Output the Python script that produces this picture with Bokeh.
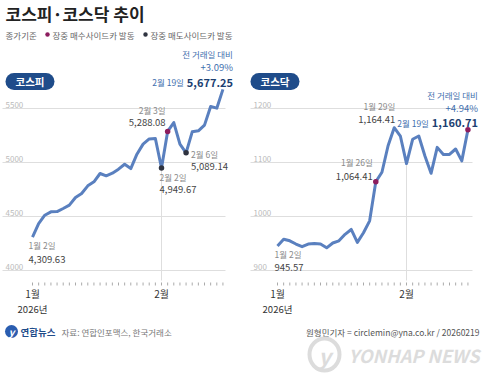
from bokeh.plotting import figure
from bokeh.models import Range1d
from bokeh.embed import file_html
from bokeh.resources import INLINE
from bokeh.core.properties import value

FONT = "Noto Sans CJK KR"

# ---------------- data ----------------
trade_days = ["1/2", "1/5", "1/6", "1/7", "1/8", "1/9", "1/12", "1/13", "1/14", "1/15", "1/16",
              "1/19", "1/20", "1/21", "1/22", "1/23", "1/26", "1/27", "1/28", "1/29", "1/30",
              "2/2", "2/3", "2/4", "2/5", "2/6", "2/9", "2/10", "2/11", "2/12", "2/13", "2/19"]
kospi = [4309.63, 4435, 4512, 4543, 4546, 4574, 4605, 4676, 4713, 4784, 4821,
         4898, 4877, 4901, 4938, 4984, 4944, 5077, 5170, 5218, 5222,
         4949.67, 5288.08, 5370, 5170, 5089.14, 5284, 5293, 5346, 5519, 5503, 5677.25]
kosdaq = [945.57, 958, 955, 949, 944, 949, 950, 949, 942, 951, 955,
          967, 976, 952, 970, 992, 1064.41, 1082, 1131, 1164.41, 1149,
          1098, 1143, 1149, 1112, 1080, 1128, 1115, 1115, 1125, 1103, 1160.71]
kospi_ticks = [4000, 4500, 5000, 5500]
kosdaq_ticks = [900, 1000, 1100, 1200]
month_labels = ["1월", "2월"]
month_idx = [0, 21]
kospi_buy = [22]
kospi_sell = [21, 25]
kosdaq_buy = [16, 31]

title = "코스피·코스닥 추이"
source = "자료: 연합인포맥스, 한국거래소"
credit = "원형민기자 = circlemin@yna.co.kr / 20260219"

# ---------------- colours ----------------
LINE = "#5A80BF"
BUY = "#8C1D5E"
SELL = "#2F3340"
NAVY = "#1F4C8A"
BLUE_T = "#3F6FAE"
GRID = "#DEDEDE"
GREY = "#8A8A8A"
DARK = "#444444"

W, H = 484, 375
p = figure(width=W, height=H, x_range=Range1d(0, W), y_range=Range1d(H, 0),
           output_backend="svg", toolbar_location=None,
           x_axis_type=None, y_axis_type=None, min_border=0,
           outline_line_color=None, background_fill_color="white")

STEP = 6.143
BASE_Y = 270.0  # pixel row of the lowest grid value
PX_PER_TICK = 54.0

def xr(first_px):
    return Range1d(-first_px / STEP, (W - first_px) / STEP)

def yr(v0, dv):
    per = dv / PX_PER_TICK
    return Range1d(v0 - (H - BASE_Y) * per, v0 + BASE_Y * per)

p.extra_x_ranges = {"kx": xr(32.0), "qx": xr(277.0)}
p.extra_y_ranges = {"ky": yr(4000, 500), "qy": yr(900, 100)}

# ---------------- header ----------------
p.text(x=[5], y=[13], text=[title], text_font=value(FONT), text_font_size="17px",
       text_font_style="bold", text_color="#222222", text_baseline="middle")
p.text(x=[5], y=[34], text=["종가기준"], text_font=value(FONT), text_font_size="8.5px",
       text_color="#666666", text_baseline="middle")
p.scatter(x=[47], y=[34], size=4.5, fill_color=BUY, line_color=None)
p.text(x=[52], y=[34], text=["장중 매수사이드카 발동"], text_font=value(FONT), text_font_size="8.5px",
       text_color="#666666", text_baseline="middle")
p.scatter(x=[145], y=[34], size=4.5, fill_color=SELL, line_color=None)
p.text(x=[150], y=[34], text=["장중 매도사이드카 발동"], text_font=value(FONT), text_font_size="8.5px",
       text_color="#666666", text_baseline="middle")

idx = list(range(len(trade_days)))

def panel(xn, yn, series, ticks, grid_x0, grid_x1, badge_cx, badge_text, buy, sell):
    # grid lines and tick labels
    p.segment(x0=[grid_x0] * len(ticks), x1=[grid_x1] * len(ticks), y0=ticks, y1=ticks,
              y_range_name=yn, line_color=GRID, line_width=1)
    p.text(x=[grid_x0 + 3] * len(ticks), y=ticks, text=[str(t) for t in ticks],
           y_range_name=yn, text_font=value(FONT), text_font_size="8px",
           text_color="#BBBBBB", text_baseline="bottom", y_offset=-1)
    # vertical month line at february
    ry = p.extra_y_ranges[yn]
    per = (ry.end - ry.start) / H
    floor = ry.start + (H - 280) * per
    p.segment(x0=[month_idx[1]], x1=[month_idx[1]], y0=[floor], y1=[series[month_idx[1]]],
              x_range_name=xn, y_range_name=yn, line_color=GRID, line_width=1)
    # x ticks
    p.segment(x0=idx, x1=idx, y0=[282] * len(idx), y1=[285] * len(idx),
              x_range_name=xn, line_color="#AAAAAA", line_width=1)
    p.text(x=month_idx, y=[293] * 2, text=month_labels, x_range_name=xn,
           text_font=value(FONT), text_font_size="10px", text_color="#333333",
           text_align="center", text_baseline="middle")
    p.text(x=[month_idx[0]], y=[308], text=["2026년"], x_range_name=xn,
           text_font=value(FONT), text_font_size="9.5px", text_color="#333333",
           text_align="center", text_baseline="middle")
    # line
    p.line(idx, series, x_range_name=xn, y_range_name=yn, line_color=LINE,
           line_width=3, line_join="round")
    if buy:
        p.scatter([idx[i] for i in buy], [series[i] for i in buy], x_range_name=xn,
                  y_range_name=yn, size=5.5, fill_color=BUY, line_color=None)
    if sell:
        p.scatter([idx[i] for i in sell], [series[i] for i in sell], x_range_name=xn,
                  y_range_name=yn, size=5.5, fill_color=SELL, line_color=None)
    # badge
    p.rect(x=[badge_cx], y=[81], width=32, height=17, fill_color=NAVY, line_color=None)
    p.ellipse(x=[badge_cx - 16, badge_cx + 16], y=[81, 81], width=17, height=17,
              fill_color=NAVY, line_color=None)
    p.text(x=[badge_cx], y=[81], text=[badge_text], text_font=value(FONT),
           text_font_size="10.5px", text_font_style="bold", text_color="white",
           text_align="center", text_baseline="middle")

panel("kx", "ky", kospi, kospi_ticks, 2, 225, 29.5, "코스피", kospi_buy, kospi_sell)
panel("qx", "qy", kosdaq, kosdaq_ticks, 250, 472, 274.5, "코스닥", kosdaq_buy, [])

def note(xn, yn, i, date, val, align, dx, dy_date, dy_val):
    yv = kospi[i] if yn == "ky" else kosdaq[i]
    p.text(x=[idx[i]], y=[yv], text=[date],
           x_range_name=xn, y_range_name=yn, text_font=value(FONT), text_font_size="8.5px",
           text_color=GREY, text_align=align, text_baseline="middle",
           x_offset=dx, y_offset=dy_date)
    p.text(x=[idx[i]], y=[yv], text=[val],
           x_range_name=xn, y_range_name=yn, text_font=value(FONT), text_font_size="9.5px",
           text_color=DARK, text_align=align, text_baseline="middle",
           x_offset=dx, y_offset=dy_val)

def fmt(v):
    return f"{v:,.2f}"

# KOSPI notes
note("kx", "ky", 0, "1월 2일", fmt(kospi[0]), "left", -4, 8, 22)
note("kx", "ky", 21, "2월 2일", fmt(kospi[21]), "left", -2, 9, 22)
note("kx", "ky", 22, "2월 3일", fmt(kospi[22]), "right", -2, -21, -9)
note("kx", "ky", 25, "2월 6일", fmt(kospi[25]), "left", 5, 1, 14)
# KOSDAQ notes
note("qx", "qy", 0, "1월 2일", fmt(kosdaq[0]), "left", -3, 8, 22)
note("qx", "qy", 16, "1월 26일", fmt(kosdaq[16]), "right", -3, -20, -5)
note("qx", "qy", 19, "1월 29일", fmt(kosdaq[19]), "right", 1, -22, -8)

def last_note(xn, yn, series, pct):
    i = len(series) - 1
    common = dict(x_range_name=xn, y_range_name=yn, text_font=value(FONT),
                  text_baseline="middle", text_align="right", x_offset=10)
    p.text(x=[idx[i]], y=[series[i]], text=["전 거래일 대비"], text_font_size="8.5px",
           text_color=BLUE_T, y_offset=-35, **common)
    p.text(x=[idx[i]], y=[series[i]], text=[pct], text_font_size="9.5px",
           text_color=BLUE_T, y_offset=-22, **common)
    p.text(x=[idx[i]], y=[series[i]], text=[fmt(series[i])], text_font_size="11px",
           text_font_style="bold", text_color="#1D3F72", y_offset=-7, **common)
    common["x_offset"] = 10 - 49
    p.text(x=[idx[i]], y=[series[i]], text=["2월 19일"], text_font_size="8.5px",
           text_color=BLUE_T, y_offset=-7, **common)

last_note("kx", "ky", kospi, "+3.09%")
last_note("qx", "qy", kosdaq, "+4.94%")

# ---------------- footer ----------------
p.ellipse(x=[11], y=[331], width=13, height=13, fill_color="#2A5DB0", line_color=None)
p.text(x=[11], y=[331], text=["y"], text_font=value(FONT), text_font_size="10px",
       text_font_style="bold italic", text_color="white", text_align="center",
       text_baseline="middle")
p.text(x=[20], y=[331], text=["연합뉴스"], text_font=value(FONT), text_font_size="9.5px",
       text_font_style="bold", text_color=NAVY, text_baseline="middle")
p.text(x=[61], y=[331], text=[source], text_font=value(FONT), text_font_size="8.5px",
       text_color="#777777", text_baseline="middle")
p.text(x=[479], y=[331], text=[credit], text_font=value(FONT), text_font_size="8.5px",
       text_color="#555555", text_align="right", text_baseline="middle")
# watermark
p.ellipse(x=[324], y=[354], width=30, height=32, fill_color=None, line_color="#DCDCDC", line_width=4)
p.text(x=[324], y=[354], text=["y"], text_font=value(FONT), text_font_size="22px",
       text_font_style="bold italic", text_color="#DCDCDC", text_align="center",
       text_baseline="middle")
p.text(x=[479], y=[354], text=["YONHAP NEWS"], text_font=value(FONT), text_font_size="18px",
       text_font_style="bold italic", text_color="#DCDCDC", text_align="right",
       text_baseline="middle")

open("out.html", "w").write(file_html(p, INLINE))
